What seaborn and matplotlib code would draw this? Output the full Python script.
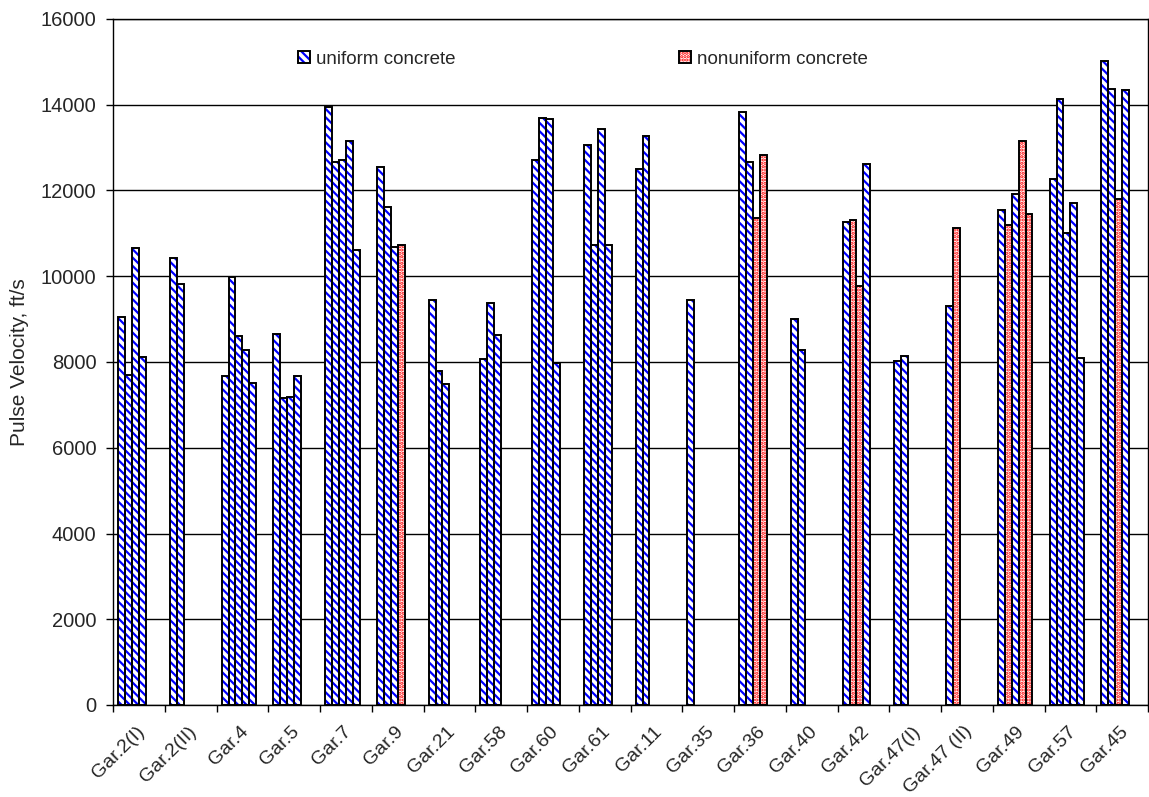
import numpy as np
import pandas as pd
import matplotlib
matplotlib.use("Agg")
import matplotlib.pyplot as plt
import matplotlib.patches as mpatches
import matplotlib.transforms as mtransforms
from matplotlib.legend_handler import HandlerTuple
import seaborn as sns

nan = np.nan

# Garage / structure labels along the x axis
categories = ["Gar.2(I)", "Gar.2(II)", "Gar.4", "Gar.5", "Gar.7", "Gar.9",
              "Gar.21", "Gar.58", "Gar.60", "Gar.61", "Gar.11", "Gar.35",
              "Gar.36", "Gar.40", "Gar.42", "Gar.47(I)", "Gar.47 (II)",
              "Gar.49", "Gar.57", "Gar.45"]

# Pulse velocity readings (ft/s), one list per test location within a garage
reading_1 = [9060, 10430, 7670, 8650, 13950, 12550, 9450, 8070, 12710, 13070,
             12510, 9450, 13820, 9000, 11260, 8030, 9300, 11540, 12270, 15030]
reading_2 = [7700, 9820, 9990, 7150, 12660, 11610, 7800, 9380, 13690, 10720,
             13270, nan, 12670, 8280, 11310, 8150, 11130, 11190, 14130, 14360]
reading_3 = [10670, nan, 8600, 7190, 12700, 10690, 7490, 8620, 13660, 13440,
             nan, nan, 11350, nan, 9770, nan, nan, 11920, 11020, 11810]
reading_4 = [8120, nan, 8270, 7680, 13150, 10730, nan, nan, 7980, 10740,
             nan, nan, 12830, nan, 12620, nan, nan, 13150, 11710, 14350]
reading_5 = [nan, nan, 7500, nan, 10620, nan, nan, nan, nan, nan,
             nan, nan, nan, nan, nan, nan, nan, 11460, 8090, nan]

# Concrete condition per reading: U = uniform, N = nonuniform
condition_1 = "UUUUUUUUUUUUUUUUUUUU"
condition_2 = "UUUUUUUUUUUUUUNUNNUU"
condition_3 = "UUUUUUUUUUUUNUNUUUUN"
condition_4 = "UUUUUNUUUUUUNUUUUNUU"
condition_5 = "UUUUUUUUUUUUUUUUUNUU"

readings = [reading_1, reading_2, reading_3, reading_4, reading_5]
conditions = [condition_1, condition_2, condition_3, condition_4, condition_5]
slot_levels = ["1", "2", "3", "4", "5", "6"]

rows = []
for k, (vals, cond) in enumerate(zip(readings, conditions)):
    for i, (cat, v) in enumerate(zip(categories, vals)):
        if not np.isnan(v):
            rows.append({"garage": cat, "slot": slot_levels[k], "velocity": v,
                         "condition": cond[i]})
df = pd.DataFrame(rows)

sns.set_style("white")
plt.rcParams["font.family"] = ["Liberation Sans", "DejaVu Sans"]
plt.rcParams["hatch.linewidth"] = 1.6

fig = plt.figure(figsize=(11.49, 7.97), dpi=100)
ax = fig.add_axes([113 / 1149, 92 / 797, 1035 / 1149, 686 / 797])

sns.barplot(data=df, x="garage", y="velocity", hue="slot", order=categories,
            hue_order=slot_levels, width=0.8, errorbar=None, dodge=True,
            legend=False, ax=ax)

BLUE = "#0000FF"
RED = "#FF0000"
UNIFORM_HATCH = "\\" * 4
NONUNIFORM_HATCH = "....."

n_slots = len(slot_levels)
bar_w = 0.8 / n_slots
for p in list(ax.patches):
    xc = p.get_x() + p.get_width() / 2
    ci = int(round(xc))
    slot = int(round((xc - ci + 0.4) / bar_w - 0.5))
    cond = conditions[slot][ci]
    color = BLUE if cond == "U" else RED
    p.set_facecolor("white")
    p.set_edgecolor(color)
    p.set_hatch(UNIFORM_HATCH if cond == "U" else NONUNIFORM_HATCH)
    p.set_linewidth(0)
    ax.add_patch(mpatches.Rectangle((p.get_x(), p.get_y()), p.get_width(),
                                    p.get_height(), fill=False,
                                    edgecolor="black", linewidth=1.4,
                                    zorder=p.get_zorder() + 0.1))

ax.set_ylim(0, 16000)
ax.set_xlim(-0.5, len(categories) - 0.5)
ax.set_yticks(np.arange(0, 16001, 2000))
ax.yaxis.grid(True, color="black", linewidth=1.0)
ax.set_axisbelow(True)

# category boundaries carry tick marks, centres carry labels
ax.set_xticks(np.arange(len(categories) + 1) - 0.5)
ax.set_xticklabels([])
ax.set_xticks(np.arange(len(categories)), minor=True)
ax.set_xticklabels(categories, minor=True, rotation=45, ha="right",
                   rotation_mode="anchor", fontsize=14)
ax.tick_params(axis="x", which="minor", length=0, pad=13)
ax.tick_params(axis="x", which="major", length=5, width=1, color="black",
               direction="out", bottom=True)
ax.tick_params(axis="y", length=5, width=1, color="black", direction="out",
               left=True, labelsize=14.5, pad=7)
shift = mtransforms.ScaledTranslation(-3 / 100, 0, fig.dpi_scale_trans)
for lbl in ax.get_xticklabels(minor=True):
    lbl.set_transform(lbl.get_transform() + shift)

for s in ax.spines.values():
    s.set_color("black")
    s.set_linewidth(1.0)

ax.set_xlabel("")
ax.set_ylabel("Pulse Velocity, ft/s", fontsize=15, labelpad=8)

def swatch(color, hatch):
    fillp = mpatches.Patch(facecolor="white", edgecolor=color, hatch=hatch,
                           linewidth=0)
    edge = mpatches.Patch(fill=False, edgecolor="black", linewidth=1.4)
    return (fillp, edge)

for label, color, hatch, xpos in [("uniform concrete", BLUE, UNIFORM_HATCH, 298),
                                  ("nonuniform concrete", RED, NONUNIFORM_HATCH, 679)]:
    fig.legend(handles=[swatch(color, hatch)], labels=[label],
               handler_map={tuple: HandlerTuple(ndivide=1)},
               loc="center left", bbox_to_anchor=(xpos / 1149, 1 - 59 / 797),
               frameon=False, fontsize=13.5, handlelength=0.65,
               handleheight=0.65, handletextpad=0.3, borderpad=0,
               borderaxespad=0)

fig.savefig("out.png", dpi=100)
